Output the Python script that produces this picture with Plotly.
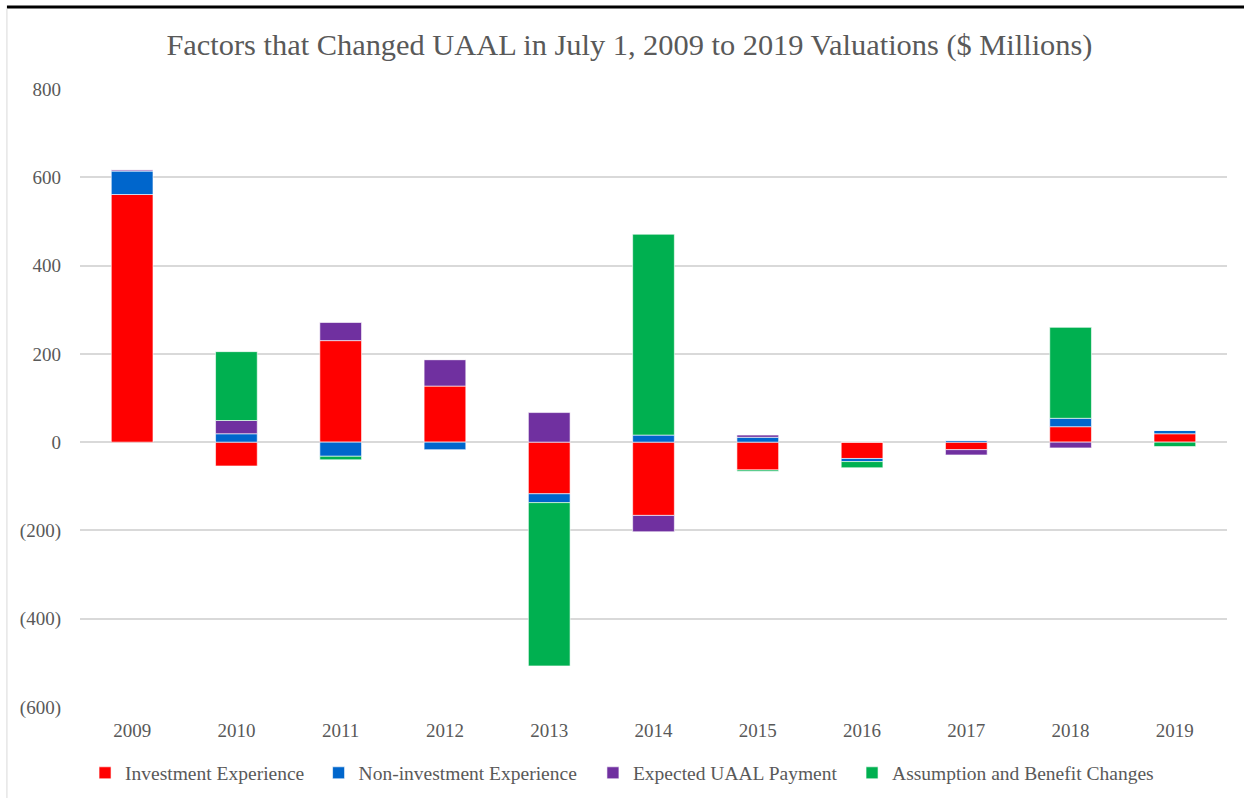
import plotly.graph_objects as go

years = ["2009", "2010", "2011", "2012", "2013", "2014", "2015", "2016", "2017", "2018", "2019"]
investment = [561, -54, 230, 127, -117, -166, -63, -37, -17, 35, 19]
non_investment = [53, 19, -32, -17, -20, 16, 11, -7, 4, 19, 7.5]
expected_payment = [3, 30, 41, 60, 67, -37, 5, 0, -12, -13, 0]
assumption_changes = [0, 156, -8, 0, -370, 455, -3, -14, 0, 206, -10]

series_names = ["Investment Experience", "Non-investment Experience",
                "Expected UAAL Payment", "Assumption and Benefit Changes"]
series_colors = ["#FF0000", "#0066CC", "#7030A0", "#00B050"]

y_tick_vals = [-600, -400, -200, 0, 200, 400, 600, 800]
y_tick_text = ["(600)", "(400)", "(200)", "0", "200", "400", "600", "800"]

font_family = "Liberation Serif, Times New Roman, serif"
text_color = "#595959"

legend_ids = ["legend", "legend2", "legend3", "legend4"]
legend_x = [0.0044, 0.2080, 0.4472, 0.6731]

fig = go.Figure()
for name, vals, col, lid in zip(series_names,
                                [investment, non_investment, expected_payment, assumption_changes],
                                series_colors, legend_ids):
    fig.add_trace(go.Bar(
        x=years, y=vals, name=name, legend=lid,
        marker=dict(color=col, line=dict(color="rgba(255,255,255,0.6)", width=1)),
    ))

legend_common = dict(orientation="h", y=-0.107, yanchor="middle", xanchor="left",
                     font=dict(family=font_family, size=19.5, color=text_color),
                     bgcolor="rgba(0,0,0,0)", itemwidth=30)

fig.update_layout(
    barmode="relative",
    bargap=0.6,
    width=1244, height=798,
    paper_bgcolor="white", plot_bgcolor="white",
    margin=dict(l=80, r=17, t=89, b=91, autoexpand=False),
    title=dict(text="Factors that Changed UAAL in July 1, 2009 to 2019 Valuations ($ Millions)",
               x=0.506, xanchor="center", y=0.944, yanchor="middle",
               font=dict(family=font_family, size=30.4, color=text_color)),
    font=dict(family=font_family, color=text_color),
    showlegend=True,
    shapes=[
        dict(type="line", xref="paper", yref="paper", x0=-0.0637, x1=1.02,
             y0=1.1327, y1=1.1327, line=dict(color="black", width=3)),
        dict(type="line", xref="paper", yref="paper", x0=-0.0637, x1=-0.0637,
             y0=1.13, y1=-0.2, line=dict(color="#D9D9D9", width=1)),
    ],
)
for lid, lx in zip(legend_ids, legend_x):
    fig.update_layout({lid: dict(legend_common, x=lx)})

fig.update_xaxes(showgrid=False, showline=False, ticks="", ticklabelstandoff=10,
                 tickfont=dict(family=font_family, size=19, color=text_color))
fig.update_yaxes(range=[-600, 800], tickvals=y_tick_vals, ticktext=y_tick_text,
                 showgrid=True, gridcolor="#D9D9D9", gridwidth=1.5,
                 zeroline=True, zerolinecolor="#D9D9D9", zerolinewidth=1.5,
                 showline=False, ticks="", ticklabelstandoff=18,
                 tickfont=dict(family=font_family, size=19, color=text_color))

fig.write_html("out.html", config={"displayModeBar": False},
               post_script="document.body.style.margin='0';document.body.style.overflow='hidden';")
